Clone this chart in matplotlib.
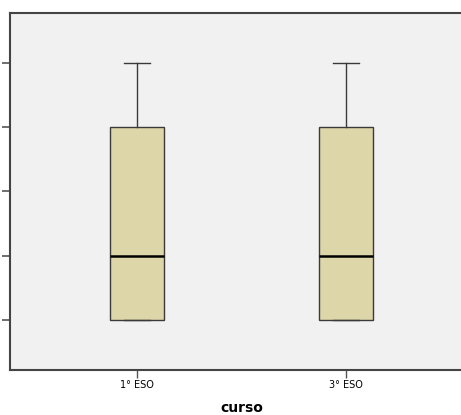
import matplotlib
matplotlib.use("Agg")
from matplotlib import pyplot as plt

# values
categories = ["1° ESO", "3° ESO"]
q1 = [0, 0]
medians = [1, 1]
q3 = [3, 3]
whisker_low = [0, 0]
whisker_high = [4, 4]
y_ticks = [0, 1, 2, 3, 4]

stats = []
for i, name in enumerate(categories):
    stats.append(dict(label=name, med=medians[i], q1=q1[i], q3=q3[i],
                      whislo=whisker_low[i], whishi=whisker_high[i], fliers=[]))

fig = plt.figure(figsize=(4.61, 4.15), dpi=100)
ax = fig.add_axes([10 / 461, 45 / 415, 463 / 461, 357 / 415])
ax.set_facecolor("#f1f1f1")

ax.bxp(stats, positions=[1, 2], widths=0.258, patch_artist=True,
       boxprops=dict(facecolor="#dcd6a8", edgecolor="#3a3a3a", linewidth=1.0),
       medianprops=dict(color="black", linewidth=1.8),
       whiskerprops=dict(color="#3a3a3a", linewidth=1.0),
       capprops=dict(color="#3a3a3a", linewidth=1.0),
       capwidths=0.124, showfliers=False)

ax.set_xlim(0.392, 2.608)
ax.set_ylim(-0.778, 4.778)
ax.set_yticks(y_ticks)
ax.set_yticklabels([str(v) for v in y_ticks], color="#4a7fc0", fontsize=8)
ax.tick_params(axis="y", length=6, width=1.2, color="#555555", pad=2)
ax.tick_params(axis="x", length=6, width=1.0, color="#555555", labelsize=7, pad=1)
ax.set_xlabel("curso", fontsize=10, fontweight="bold", labelpad=8)

for side in ["left", "bottom", "top"]:
    ax.spines[side].set_linewidth(1.5)
    ax.spines[side].set_color("#444444")
ax.spines["right"].set_visible(False)

fig.savefig("out.png", dpi=100)
